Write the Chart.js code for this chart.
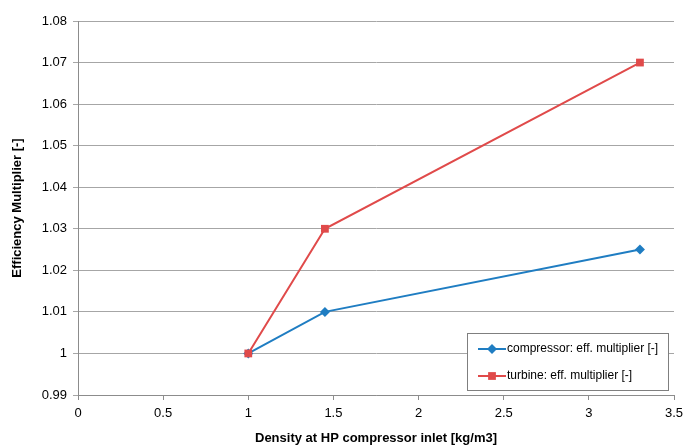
<!DOCTYPE html>
<html><head><meta charset="utf-8">
<script src="https://cdn.jsdelivr.net/npm/chart.js@4/dist/chart.umd.min.js"></script>
<style>html,body{margin:0;padding:0;background:#fff}#wrap{width:684px;height:446px}</style>
</head><body><div id="wrap"><canvas id="c" width="684" height="446"></canvas></div>
<script>
const xTitle = "Density at HP compressor inlet [kg/m3]";
const yTitle = "Efficiency Multiplier [-]";
const density = [1, 1.45, 3.3];
const compressorEff = [1.0, 1.01, 1.025];
const turbineEff = [1.0, 1.03, 1.07];
const seriesNames = ["compressor: eff. multiplier [-]", "turbine: eff. multiplier [-]"];
const xMin = 0, xMax = 3.5, xStep = 0.5;
const yMin = 0.99, yMax = 1.08, yStep = 0.01;

const blue = '#1f7dc2', red = '#e04a4a';
const font = {family: 'Liberation Sans, Arial, sans-serif', size: 13};

const legendPlugin = {
  id: 'boxLegend',
  afterDraw(chart) {
    const ctx = chart.ctx;
    const x0 = 467, y0 = 333, w = 201, h = 57;
    ctx.save();
    ctx.fillStyle = '#fff';
    ctx.fillRect(x0, y0, w, h);
    ctx.strokeStyle = '#7f7f7f';
    ctx.lineWidth = 1;
    ctx.strokeRect(x0 + 0.5, y0 + 0.5, w, h);
    const items = [
      {c: blue, style: 'rectRot', r: 5, y: y0 + 16},
      {c: red, style: 'rect', r: 5.5, y: y0 + 43}
    ];
    items.forEach((it, i) => {
      ctx.strokeStyle = it.c; ctx.lineWidth = 2;
      ctx.beginPath(); ctx.moveTo(x0 + 11, it.y); ctx.lineTo(x0 + 39, it.y); ctx.stroke();
      ctx.fillStyle = it.c;
      Chart.helpers.drawPoint(ctx, {pointStyle: it.style, radius: it.r, borderWidth: 0}, x0 + 25, it.y);
      ctx.fillStyle = '#000';
      ctx.font = '12px Liberation Sans, Arial, sans-serif';
      ctx.textBaseline = 'middle';
      ctx.fillText(seriesNames[i], x0 + 40, it.y);
    });
    ctx.restore();
  }
};

const fmt = v => { const r = Math.round(v * 100) / 100; return String(r); };

new Chart(document.getElementById('c'), {
  type: 'scatter',
  data: {
    datasets: [
      {label: seriesNames[0], data: density.map((x, i) => ({x, y: compressorEff[i]})),
       showLine: true, borderColor: blue, backgroundColor: blue, borderWidth: 2, order: 1,
       pointStyle: 'rectRot', pointRadius: 5, pointBorderWidth: 0},
      {label: seriesNames[1], data: density.map((x, i) => ({x, y: turbineEff[i]})),
       showLine: true, borderColor: red, backgroundColor: red, borderWidth: 2, order: 0,
       pointStyle: 'rect', pointRadius: 5.5, pointBorderWidth: 0}
    ]
  },
  options: {
    responsive: false, animation: false,
    layout: {padding: {top: 21, right: 0, left: 0, bottom: 0}},
    plugins: {legend: {display: false}, tooltip: {enabled: false}},
    scales: {
      x: {
        type: 'linear', min: xMin, max: xMax,
        ticks: {stepSize: xStep, color: '#000', font, padding: 6, callback: v => String(Math.round(v * 10) / 10)},
        grid: {drawOnChartArea: false, drawTicks: true, tickLength: 5, color: '#8c8c8c'},
        border: {color: '#8c8c8c'},
        title: {display: true, text: xTitle, color: '#000', font: {family: font.family, size: 13, weight: 'bold'}, padding: {top: 8, bottom: 0}},
        afterFit(s) { s.height = 51; s.paddingRight = 10; s.paddingLeft = 0; }
      },
      y: {
        type: 'linear', min: yMin, max: yMax,
        ticks: {stepSize: yStep, color: '#000', font, padding: 6, callback: fmt},
        grid: {color: '#a6a6a6', drawTicks: true, tickLength: 5},
        border: {color: '#8c8c8c'},
        title: {display: true, text: yTitle, color: '#000', font: {family: font.family, size: 13, weight: 'bold'}, padding: {top: 10, bottom: 0}},
        afterFit(s) { s.width = 78; }
      }
    }
  },
  plugins: [legendPlugin]
});
</script></body></html>
